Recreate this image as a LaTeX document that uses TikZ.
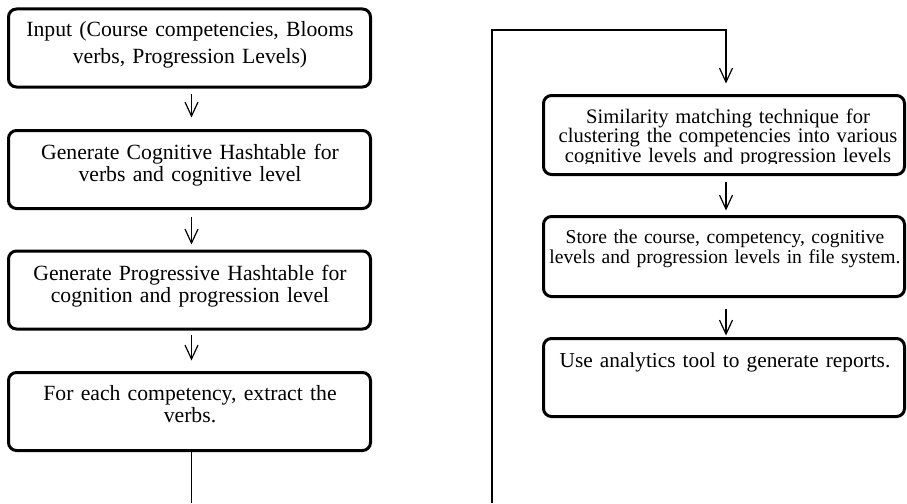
\documentclass[tikz,border=0pt]{standalone}
\usepackage{fontspec}
\setmainfont{Liberation Serif}
\usetikzlibrary{arrows.meta}
\begin{document}
\begin{tikzpicture}[x=1pt,y=-1pt,
  box/.style={draw, line width=3pt, rounded corners=8pt, minimum width=#1, minimum height=78pt, inner sep=0pt},
  box/.default=362pt,
  txtl/.style={anchor=base, align=center, text width=390pt, inner sep=0pt, font=\fontsize{21.7}{22}\selectfont},
  txtr/.style={anchor=base, align=center, text width=390pt, inner sep=0pt, font=\fontsize{21.3}{19.7}\selectfont},
  conn/.style={line width=1.2pt},
  arr/.style={conn, -{Straight Barb[length=14pt,width=13pt]}}
]
\useasboundingbox (0,0) rectangle (907,503);
% left column
\node[box] (b1) at (189.5,48) {};
\node[box] (b2) at (189.5,169.5) {};
\node[box] (b3) at (189.5,290) {};
\node[box] (b4) at (189.5,411.5) {};
\node[txtl, font=\fontsize{21.7}{27}\selectfont] (t1) at (190,37) {Input (Course competencies, Blooms\\verbs, Progression Levels)};
\node[txtl] (t2) at (190,159) {Generate Cognitive Hashtable for\\verbs and cognitive level};
\node[txtl] (t3) at (190,280) {Generate Progressive Hashtable for\\cognition and progression level};
\node[txtl] (t4) at (190,400) {For each competency, extract the\\verbs.};
% right column
\node[box=361pt, minimum height=79pt] (b5) at (724,135) {};
\node[box=361pt, minimum height=80pt] (b6) at (724,256.5) {};
\node[box=361pt] (b7) at (724,377.5) {};
\begin{scope}
  \clip (545,97) rectangle (903,163.5);
  \node[txtr, font=\fontsize{20.6}{19.7}\selectfont] (t5) at (728,123) {Similarity matching technique for\\clustering the competencies into various\\cognitive levels and progression levels};
\end{scope}
\node[txtr, font=\fontsize{19.6}{20}\selectfont] (t6) at (725,243) {Store the course, competency, cognitive\\levels and progression levels in file system.};
\node[txtr] (t7) at (725,367) {Use analytics tool to generate reports.};
% connectors
\coordinate (c1) at (191.5,503);
\coordinate (c2) at (492,503);
\coordinate (c3) at (492,30);
\draw[arr, shorten <=5pt, shorten >=11.5pt] ([xshift=2pt]b1.south) -- ([xshift=2pt]b2.north);
\draw[arr, shorten <=6.5pt, shorten >=5pt] ([xshift=2pt]b2.south) -- ([xshift=2pt]b3.north);
\draw[arr, shorten <=4pt, shorten >=10.5pt] ([xshift=2pt]b3.south) -- ([xshift=2pt]b4.north);
\draw[conn] ([xshift=2pt]b4.south) -- (c1);
\draw[arr, shorten >=10.5pt] (c2) -- (c3) -| ([xshift=2pt]b5.north);
\draw[arr, shorten <=5.5pt, shorten >=4.5pt] ([xshift=2pt]b5.south) -- ([xshift=2pt]b6.north);
\draw[arr, shorten <=10.5pt, shorten >=1.5pt] ([xshift=2pt]b6.south) -- ([xshift=2pt]b7.north);
\end{tikzpicture}
\end{document}
